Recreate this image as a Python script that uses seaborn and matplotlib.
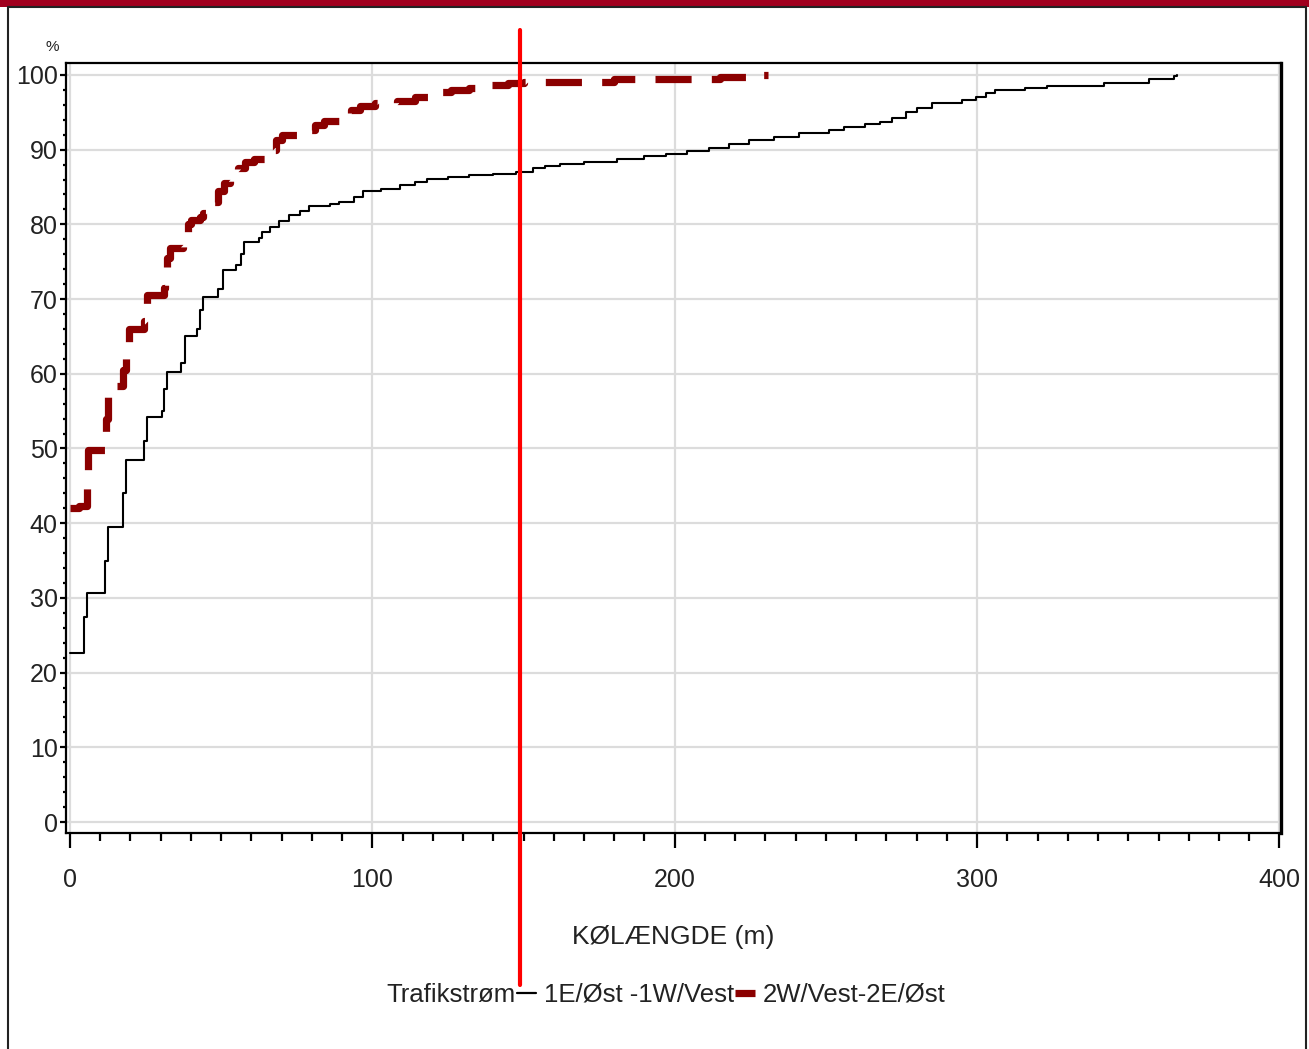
import matplotlib
matplotlib.use("Agg")
import matplotlib.pyplot as plt
from matplotlib.lines import Line2D
from matplotlib.patches import Rectangle
from matplotlib.ticker import MultipleLocator
import seaborn as sns
import pandas as pd

# ---- data ----
x_east = [0, 4.5, 5.5, 11.5, 12.5, 17.5, 18.5, 24.5, 25.5, 30.5, 31, 32, 36.8, 38, 42, 43, 44,
          49, 50.5, 55, 56.5, 57.5, 62.5, 63.5, 66, 69, 72.5, 76, 79, 86, 89, 94, 97, 103, 109,
          114, 118, 125, 132, 140, 147.5, 153, 157, 162, 170, 181, 190, 197, 204, 211.5, 218,
          224.5, 233, 241, 251, 256, 263, 268, 272, 276.5, 280, 285, 295, 299.5, 303, 306, 316,
          323, 342, 357, 365, 366]
y_east = [22.6, 27.5, 30.6, 35.0, 39.5, 44.0, 48.5, 51.0, 54.2, 55.0, 58.0, 60.3, 61.5, 65.0, 66.0,
          68.5, 70.3, 71.3, 73.9, 74.5, 76.0, 77.7, 78.2, 79.0, 79.7, 80.5, 81.3, 81.8, 82.4, 82.7,
          83.0, 83.6, 84.4, 84.8, 85.3, 85.7, 86.1, 86.3, 86.6, 86.8, 87.0, 87.5, 87.8, 88.1, 88.4,
          88.8, 89.1, 89.4, 89.8, 90.2, 90.7, 91.3, 91.7, 92.2, 92.6, 93.0, 93.4, 93.7, 94.2, 95.1,
          95.6, 96.3, 96.7, 97.1, 97.6, 98.0, 98.3, 98.5, 98.9, 99.5, 99.9, 100.0]

x_west = [0, 3, 5.5, 6, 11.5, 12, 12.5, 13.5, 17.5, 18.5, 19.5, 24.5, 25, 25.5, 31, 31.5, 32, 33,
          37.5, 39, 40, 43, 44, 47, 49, 51, 53, 55.5, 58, 61, 66, 68, 70, 75, 78, 81, 84, 89, 93,
          96, 101, 108, 114, 119, 126, 132, 135, 145, 150, 180, 215, 229, 231]
y_west = [42.0, 42.3, 46.0, 49.8, 51.0, 54.0, 57.5, 58.3, 60.5, 63.6, 66.0, 67.0, 68.5, 70.5, 71.5,
          72.5, 75.5, 76.8, 79.0, 80.0, 80.6, 81.0, 81.5, 83.0, 84.5, 85.5, 86.5, 87.5, 88.3, 88.7,
          90.0, 91.3, 92.0, 92.2, 92.6, 93.3, 93.9, 94.2, 95.3, 95.8, 96.2, 96.5, 97.0, 97.7, 98.0,
          98.3, 98.7, 98.9, 99.1, 99.4, 99.7, 100.0, 100.0]

marker_x = 148.8          # red reference line
x_ticks = [0, 100, 200, 300, 400]
y_ticks = [0, 10, 20, 30, 40, 50, 60, 70, 80, 90, 100]
label_east = "1E/Øst -1W/Vest"
label_west = "2W/Vest-2E/Øst"
legend_title = "Trafikstrøm"
x_label = "KØLÆNGDE (m)"
y_unit = "%"

# ---- style ----
sns.set_style("white")
plt.rcParams["font.family"] = ["Liberation Sans", "DejaVu Sans"]

W, H = 1309, 1049
fig = plt.figure(figsize=(W / 100, H / 100), dpi=100)
ax = fig.add_axes([66 / W, 1 - 833 / H, (1281 - 66) / W, (833 - 63) / H])

df_e = pd.DataFrame({"x": x_east, "y": y_east})
df_w = pd.DataFrame({"x": x_west, "y": y_west})

sns.lineplot(data=df_e, x="x", y="y", ax=ax, color="black", lw=1.5,
             drawstyle="steps-post", estimator=None, sort=False, legend=False, zorder=3)
sns.lineplot(data=df_w, x="x", y="y", ax=ax, color="#8B0000", lw=5.2,
             drawstyle="steps-post", estimator=None, sort=False, legend=False,
             linestyle=(0, (5.0, 2.8)), dash_capstyle="butt", zorder=4)

ax.plot([marker_x, marker_x], [-0.197, 1.043], color="#FF0000", lw=3.0,
        transform=ax.get_xaxis_transform(), clip_on=False, zorder=6)

ax.set_xlim(-1.3, 400.5)
ax.set_ylim(-1.47, 101.6)
ax.set_xticks(x_ticks)
ax.set_yticks(y_ticks)
ax.xaxis.set_minor_locator(MultipleLocator(10))
ax.yaxis.set_minor_locator(MultipleLocator(2))
ax.grid(True, which="major", color="#DCDCDC", lw=1.6)
ax.set_axisbelow(True)

for s in ax.spines.values():
    s.set_color("black")
    s.set_linewidth(1.6)
ax.spines["right"].set_linewidth(2.4)

ax.tick_params(axis="x", which="major", direction="out", length=11, width=1.6,
               pad=14, labelsize=18, labelcolor="#222222", color="black")
ax.tick_params(axis="x", which="minor", direction="out", length=6, width=1.6, color="black")
ax.tick_params(axis="y", which="major", direction="out", length=4.5, width=1.6,
               pad=1.5, labelsize=18, labelcolor="#222222", color="black")
ax.tick_params(axis="y", which="minor", direction="out", length=2.2, width=1.6, color="black")
ax.tick_params(bottom=True, left=True, which="both")

ax.set_xlabel(x_label, fontsize=19, color="#222222", labelpad=24)
ax.set_ylabel("")
fig.text(52 / W, 1 - 47 / H, y_unit, fontsize=11, ha="center", va="center", color="#222222")

# legend row
fig.text(516 / W, 1 - 995 / H, legend_title, fontsize=18.5, ha="right", va="center", color="#222222")
handles = [Line2D([], [], color="black", lw=1.6),
           Line2D([], [], color="#8B0000", lw=5.2, solid_capstyle="butt")]
fig.legend(handles, [label_east, label_west], loc="center left",
           bbox_to_anchor=(517 / W, 1 - 995 / H), ncol=2, frameon=False,
           fontsize=18.5, handlelength=0.75, handletextpad=0.3, columnspacing=0.05,
           borderpad=0, borderaxespad=0, labelcolor="#222222")

# page frame
fig.patches.append(Rectangle((0, 1 - 7 / H), 1, 7 / H, transform=fig.transFigure,
                             facecolor="#A0001E", edgecolor="none", zorder=10))
fig.patches.append(Rectangle((8 / W, -0.01), (1306 - 8) / W, 1 - 7 / H + 0.01,
                             transform=fig.transFigure, facecolor="none",
                             edgecolor="#222222", lw=1.5, zorder=10))

fig.savefig("out.png", dpi=100)
